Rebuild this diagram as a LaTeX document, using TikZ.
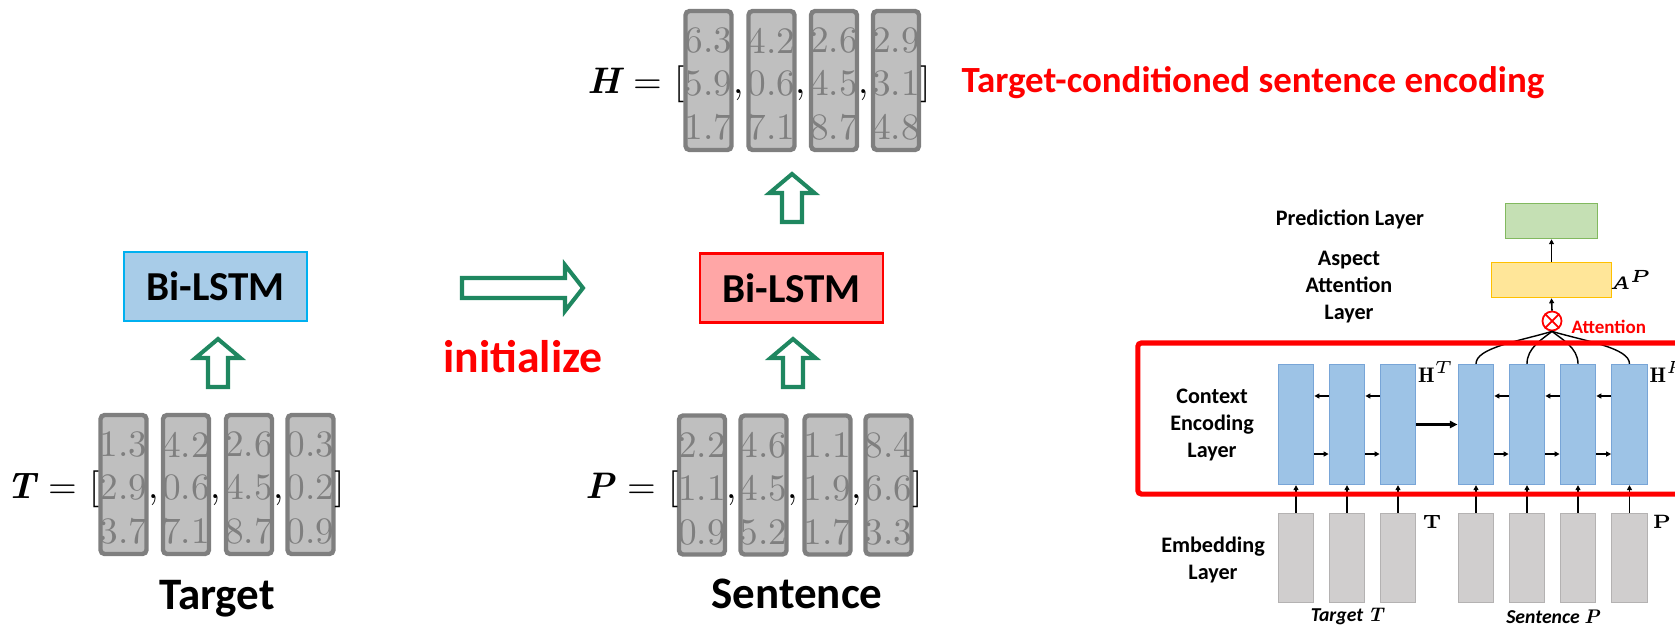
\documentclass[tikz,border=0pt]{standalone}
\usepackage{amsmath}
\usepackage{fontspec}
\setsansfont{Carlito}
\usetikzlibrary{arrows.meta}
\definecolor{garr}{RGB}{31,135,96}
\definecolor{mgray}{RGB}{127,127,127}
\definecolor{mfill}{RGB}{191,191,191}
\definecolor{lblue}{RGB}{168,204,232}
\definecolor{cyanb}{RGB}{0,176,240}
\definecolor{lred}{RGB}{255,166,166}
\definecolor{cblue}{RGB}{157,195,230}
\definecolor{cbluedraw}{RGB}{120,165,215}
\definecolor{cgray}{RGB}{208,206,206}
\definecolor{cgraydraw}{RGB}{180,178,178}
\definecolor{pgreen}{RGB}{197,224,180}
\definecolor{pgreendraw}{RGB}{130,185,95}
\definecolor{pyel}{RGB}{255,230,153}
\definecolor{pyeldraw}{RGB}{255,192,0}
\newcommand\hollowup[5]{% name, cx, tip y, head base y, bottom y
  \coordinate (#1) at (#2,#3);
  \draw[garrow] (#2,#3) -- ({#2+22.5},#4) -- ({#2+10},#4) -- ({#2+10},#5) -- ({#2-10},#5) -- ({#2-10},#4) -- ({#2-22.5},#4) -- cycle;}
\newcommand\mcolumn[6]{% name, cx, cy, three numbers
  \node[mcol] (#1) at (#2,#3) {};
  \node[num] (#1a) at (#2,{#3-40}) {#4};
  \node[num] (#1b) at (#2,{#3+3}) {#5};
  \node[num] (#1c) at (#2,{#3+47}) {#6};}
\begin{document}
\begin{tikzpicture}[x=0.01cm,y=-0.01cm,
  mcol/.style={draw=mgray,fill=mfill,line width=1.25pt,rounded corners=1.2pt,minimum width=0.46cm,minimum height=1.39cm,inner sep=0pt},
  num/.style={text=mgray,font=\fontsize{10.6}{12}\selectfont,inner sep=0pt},
  mlab/.style={font=\fontsize{10.5}{12}\selectfont,inner sep=0pt},
  lstm/.style={line width=0.7pt,minimum width=1.83cm,minimum height=0.69cm,font=\sffamily\bfseries\fontsize{11.7}{14}\selectfont},
  garrow/.style={draw=garr,line width=1.15pt,fill=white,line join=miter},
  big/.style={font=\sffamily\bfseries\fontsize{12.8}{15}\selectfont,inner sep=0pt},
  lay/.style={font=\sffamily\bfseries\fontsize{6.3}{7.7}\selectfont,align=center,inner sep=0pt},
  bcol/.style={draw=cbluedraw,fill=cblue,line width=0.35pt,minimum width=0.355cm,minimum height=1.2cm,inner sep=0pt},
  gcol/.style={draw=cgraydraw,fill=cgray,line width=0.35pt,minimum width=0.355cm,minimum height=0.89cm,inner sep=0pt},
  tip/.style={-{Triangle[length=1.4pt,width=1.4pt]},line width=0.45pt},
  ]
\useasboundingbox (0,0) rectangle (1675,627);

% ---------- Target ----------
\node[lstm,draw=cyanb,fill=lblue] (lstmT) at (215.5,286.5) {Bi-LSTM};
\hollowup{arrT}{218}{339}{358}{387}
\mcolumn{T1}{123.5}{484.5}{1.3}{2.9}{3.7}
\mcolumn{T2}{186}{484.5}{4.2}{0.6}{7.1}
\mcolumn{T3}{249}{484.5}{2.6}{4.5}{8.7}
\mcolumn{T4}{310.5}{484.5}{0.3}{0.2}{0.9}
\node[mlab,anchor=base east] (Tlab) at (100,498) {{\bfseries\itshape T} = [};
\node[mlab,anchor=base west] (Tk1) at (148,498) {,};
\node[mlab,anchor=base west] (Tk2) at (210,498) {,};
\node[mlab,anchor=base west] (Tk3) at (273,498) {,};
\node[mlab,anchor=base west] (Trb) at (334,498) {]};
\node[big,anchor=base] (Tname) at (217,609) {Target};

% ---------- initialize ----------
\coordinate (initA) at (462,288);
\draw[garrow] (583,288) -- (565,265) -- (565,278) -- (462,278) -- (462,298) -- (565,298) -- (565,311) -- cycle;
\node[font=\sffamily\bfseries\fontsize{13}{15}\selectfont,text=red,inner sep=0pt,anchor=base] (init) at (523,372) {initialize};

% ---------- Sentence ----------
\node[lstm,draw=red,fill=lred] (lstmP) at (791.5,288) {Bi-LSTM};
\hollowup{arrP}{793}{339}{358}{387}
\mcolumn{P1}{702}{485}{2.2}{1.1}{0.9}
\mcolumn{P2}{763.5}{485}{4.6}{4.5}{5.2}
\mcolumn{P3}{827.5}{485}{1.1}{1.9}{1.7}
\mcolumn{P4}{888.5}{485}{8.4}{6.6}{3.3}
\node[mlab,anchor=base east] (Plab) at (679,498) {{\bfseries\itshape P} = [};
\node[mlab,anchor=base west] (Pk1) at (726,498) {,};
\node[mlab,anchor=base west] (Pk2) at (787,498) {,};
\node[mlab,anchor=base west] (Pk3) at (851,498) {,};
\node[mlab,anchor=base west] (Prb) at (912,498) {]};
\node[big,anchor=base] (Pname) at (797,608) {Sentence};

% ---------- H ----------
\hollowup{arrH}{792}{174}{193}{222}
\mcolumn{H1}{708.5}{80.5}{6.3}{5.9}{1.7}
\mcolumn{H2}{771.5}{80.5}{4.2}{0.6}{7.1}
\mcolumn{H3}{834}{80.5}{2.6}{4.5}{8.7}
\mcolumn{H4}{896}{80.5}{2.9}{3.1}{4.8}
\node[mlab,anchor=base east] (Hlab) at (685,93) {{\bfseries\itshape H} = [};
\node[mlab,anchor=base west] (Hk1) at (733,93) {,};
\node[mlab,anchor=base west] (Hk2) at (795,93) {,};
\node[mlab,anchor=base west] (Hk3) at (858,93) {,};
\node[mlab,anchor=base west] (Hrb) at (920,93) {]};
\node[font=\sffamily\bfseries\fontsize{10.5}{12}\selectfont,text=red,inner sep=0pt,anchor=base west] (title) at (961,92) {Target-conditioned sentence encoding};

% ---------- right panel ----------
\foreach \i/\cx in {1/1296,2/1347,3/1398,4/1476,5/1527,6/1578,7/1629.5}{
  \node[bcol] (b\i) at (\cx,424.5) {};
  \node[gcol] (g\i) at (\cx,558) {};
  \draw[tip] (g\i.north) -- (b\i.south);
}
\foreach \a/\b in {1/2,2/3,4/5,5/6,6/7}{
  \draw[tip] ([yshift=0.285cm]b\b.west) -- ([yshift=0.285cm]b\a.east);
  \draw[tip] ([yshift=-0.295cm]b\a.east) -- ([yshift=-0.295cm]b\b.west);
}
\draw[-{Triangle[length=2.2pt,width=2pt]},line width=0.6pt] (b3.east) -- (b4.west);

\node[draw=red,circle,line width=0.5pt,minimum size=0.19cm,inner sep=0pt] (att) at (1552,321) {};
\draw[red,line width=0.5pt] (att.north east) -- (att.south west) (att.north west) -- (att.south east);
\node[font=\sffamily\bfseries\fontsize{5.4}{6.5}\selectfont,text=red,inner sep=0pt,anchor=west] (attlab) at (1571,327) {Attention};

\draw[line width=0.4pt] (b4.north) .. controls +(0,-16) and +(-34,10) .. (att.south);
\draw[line width=0.4pt] (b5.north) .. controls +(0,-16) and +(-10,8) .. (att.south);
\draw[line width=0.4pt] (b6.north) .. controls +(0,-16) and +(10,8) .. (att.south);
\draw[line width=0.4pt] (b7.north) .. controls +(0,-16) and +(34,10) .. (att.south);

\node[draw=pyeldraw,fill=pyel,line width=0.45pt,minimum width=1.2cm,minimum height=0.35cm,inner sep=0pt] (yel) at (1551.5,280) {};
\node[draw=pgreendraw,fill=pgreen,line width=0.45pt,minimum width=0.92cm,minimum height=0.35cm,inner sep=0pt] (grn) at (1551.5,221) {};
\draw[tip] (att.north) -- (yel.south);
\draw[tip] (yel.north) -- (grn.south);
\node[inner sep=0pt,font=\fontsize{5.4}{7}\selectfont] (ap) at (1631,280) {$\boldsymbol{A}^{\boldsymbol{P}}$};

\node[draw=red,line width=1.45pt,rounded corners=1pt,minimum width=5.82cm,minimum height=1.51cm,inner sep=0pt] (ctx) at (1429,418.5) {};

\node[inner sep=0pt,font=\fontsize{6}{7}\selectfont] (ht) at (1436,372) {$\mathbf{H}^{T}$};
\node[inner sep=0pt,font=\fontsize{6}{7}\selectfont] (hp) at (1668,372) {$\mathbf{H}^{P}$};
\node[inner sep=0pt,font=\bfseries\fontsize{5.5}{7}\selectfont] (tT) at (1432,522) {T};
\node[inner sep=0pt,font=\bfseries\fontsize{5.5}{7}\selectfont] (tP) at (1662,522) {P};

\node[lay] (pred) at (1350,219) {Prediction Layer};
\node[lay] (asp) at (1349,287) {Aspect\\Attention\\Layer};
\node[lay] (cel) at (1212,425) {Context\\Encoding\\Layer};
\node[lay] (emb) at (1213,560) {Embedding\\Layer};
\node[inner sep=0pt,font=\sffamily\bfseries\itshape\fontsize{5.6}{7}\selectfont] (tgt) at (1347,617) {Target {\rmfamily T}};
\node[inner sep=0pt,font=\sffamily\bfseries\itshape\fontsize{5.6}{7}\selectfont] (snt) at (1553,617) {Sentence {\rmfamily P}};
\end{tikzpicture}
\end{document}
